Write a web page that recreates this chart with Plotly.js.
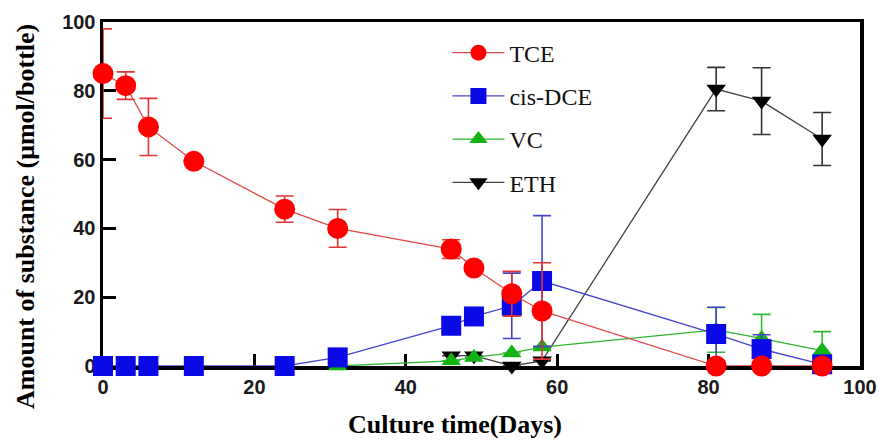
<!DOCTYPE html>
<html>
<head>
<meta charset="utf-8">
<script src="https://cdn.plot.ly/plotly-3.0.1.min.js"></script>
<style>
  html, body { margin: 0; padding: 0; background: #fff; }
  #chart { width: 882px; height: 441px; }
</style>
</head>
<body>
<div id="chart"></div>
<script>
// Culture time (days) for each sampling point
const daysTCE = [0, 3, 6, 12, 24, 31, 46, 49, 54, 58, 81, 87, 95];
const tce     = [85, 81.5, 69.5, 59.5, 45.6, 40, 34, 28.5, 21, 16, 0, 0, 0];
const tceErr  = [13, 4, 8.3, 0, 3.8, 5.5, 2.7, 0, 6.5, 14, 0, 0, 0];

const daysDCE = [0, 3, 6, 12, 24, 31, 46, 49, 54, 58, 81, 87, 95];
const dce     = [0, 0, 0, 0, 0, 2.5, 11.7, 14.4, 17.5, 24.7, 9.3, 4.9, 0.5];
const dceErr  = [0, 0, 0, 0, 0, 0, 0, 0, 9.5, 19, 7.8, 4.2, 0];

const daysVC  = [31, 46, 49, 54, 58, 81, 87, 95];
const vc      = [0, 1.5, 2.5, 3.8, 5.5, 10.5, 8, 4.5];
const vcErr   = [0, 0, 0, 0, 0, 6.5, 7, 5.5];

const daysETH = [46, 49, 54, 58, 81, 87, 95];
const eth     = [3, 3, 0, 1.5, 80.5, 77, 66];
const ethErr  = [0, 0, 0, 0, 6.3, 9.7, 7.7];

const seriesNames = ['TCE', 'cis-DCE', 'VC', 'ETH'];
const xTicks = [0, 20, 40, 60, 80, 100];
const yTicks = [0, 20, 40, 60, 80, 100];
const xTitle = 'Culture time(Days)';
const yTitle = 'Amount of substance (μmol/bottle)';

function series(name, x, y, err, opts) {
  return {
    type: 'scatter',
    mode: 'lines+markers',
    name: name,
    x: x,
    y: y,
    legendgroup: name,
    legendrank: opts.rank,
    cliponaxis: false,
    line: { color: opts.lineColor, width: 1.3 },
    marker: { symbol: opts.symbol, size: opts.size, color: opts.color,
              line: { width: 0 } },
    error_y: { type: 'data', array: err, visible: true, color: opts.errColor,
               thickness: 1.6, width: 9 }
  };
}

// Drawn bottom to top: ETH, VC, cis-DCE, TCE
const traces = [
  series(seriesNames[3], daysETH, eth, ethErr,
         { rank: 4, symbol: 'triangle-down', size: 17, color: '#000000',
           lineColor: '#444444', errColor: '#333333' }),
  series(seriesNames[2], daysVC, vc, vcErr,
         { rank: 3, symbol: 'triangle-up', size: 17, color: '#12b312',
           lineColor: '#2fb52f', errColor: '#33b833' }),
  series(seriesNames[1], daysDCE, dce, dceErr,
         { rank: 2, symbol: 'square', size: 20, color: '#0a0ae6',
           lineColor: '#4545cc', errColor: '#4545cc' }),
  series(seriesNames[0], daysTCE, tce, tceErr,
         { rank: 1, symbol: 'circle', size: 21, color: '#ff0000',
           lineColor: '#e04848', errColor: '#e03535' })
];

const tickFont = { family: 'Liberation Sans, Arial, sans-serif', size: 20,
                   color: '#1a1a1a', weight: 'bold' };
const yTitleFont = { family: 'Liberation Serif, Times New Roman, serif', size: 26,
                     color: '#000000', weight: 'bold' };
const xTitleFont = { family: 'Liberation Serif, Times New Roman, serif', size: 26,
                     color: '#000000', weight: 'bold' };

const W = 882, H = 441;
const M = { l: 103, r: 22, t: 22, b: 75 };
// paper fraction from a pixel position in the figure
const px = v => (v - M.l) / (W - M.l - M.r);
const py = v => (H - M.b - v) / (H - M.t - M.b);

const layout = {
  width: W,
  height: H,
  margin: M,
  paper_bgcolor: '#ffffff',
  plot_bgcolor: '#ffffff',
  showlegend: true,
  legend: {
    x: 0.455, y: 0.975, xanchor: 'left', yanchor: 'top',
    bgcolor: 'rgba(0,0,0,0)',
    font: { family: 'Liberation Serif, Times New Roman, serif', size: 24, color: '#111' },
    tracegroupgap: 9,
    itemwidth: 52
  },
  xaxis: {
    range: [0, 100],
    tickvals: xTicks,
    ticktext: xTicks.map(String),
    ticks: 'inside', ticklen: 12, tickwidth: 3, tickcolor: '#000',
    showline: true, linecolor: '#000', linewidth: 3.5, mirror: true,
    showgrid: false, zeroline: false,
    tickfont: tickFont,
    layer: 'below traces'
  },
  yaxis: {
    range: [0, 100],
    tickvals: yTicks,
    ticktext: yTicks.map(String),
    ticks: 'inside', ticklen: 13, tickwidth: 3, tickcolor: '#000',
    showline: true, linecolor: '#000', linewidth: 3.5, mirror: true,
    showgrid: false, zeroline: false,
    tickfont: tickFont,
    layer: 'below traces'
  },
  annotations: [
    { text: xTitle, xref: 'paper', yref: 'paper', x: px(455), y: py(424),
      xanchor: 'center', yanchor: 'middle', showarrow: false, font: xTitleFont },
    { text: yTitle, xref: 'paper', yref: 'paper', x: px(25), y: py(217),
      xanchor: 'center', yanchor: 'middle', textangle: -90, showarrow: false,
      font: yTitleFont }
  ]
};

Plotly.newPlot('chart', traces, layout, { displayModeBar: false, staticPlot: true });
</script>
</body>
</html>
